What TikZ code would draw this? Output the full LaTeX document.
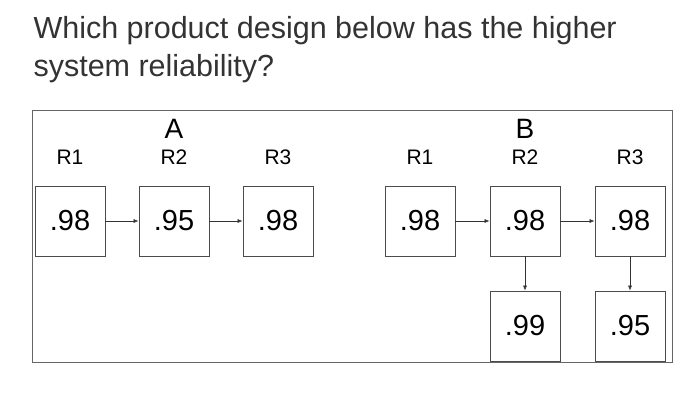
\documentclass[tikz,border=0pt]{standalone}
\usepackage{fontspec}
\setmainfont{Liberation Sans}
\usetikzlibrary{arrows.meta}
\begin{document}
\begin{tikzpicture}[x=1pt,y=-1pt,
  blk/.style={draw=black!70,line width=0.8pt,minimum width=70pt,minimum height=70pt,inner sep=0pt,font=\fontsize{29}{31}\selectfont},
  lbl/.style={font=\fontsize{21}{23}\selectfont},
  ttl/.style={font=\fontsize{28}{30}\selectfont},
  con/.style={draw=black!80,line width=0.6pt,-{Latex[length=5pt,width=4pt]}}]
\useasboundingbox (0,0) rectangle (700,403);
\node[anchor=west,text=black!80,font=\fontsize{30.5}{38}\selectfont,align=left] (title) at (30,50) {Which product design below has the higher\\system reliability?};
\node[draw=black!60,line width=0.8pt,minimum width=640pt,minimum height=252pt,inner sep=0pt] (frame) at (352,236) {};
\node[blk] (a1) at (70,221) {.98};
\node[blk] (a2) at (174,221) {.95};
\node[blk] (a3) at (278,221) {.98};
\node[blk] (b1) at (420,221) {.98};
\node[blk] (b2) at (525,221) {.98};
\node[blk] (b3) at (630,221) {.98};
\node[blk] (b2d) at (525,326) {.99};
\node[blk] (b3d) at (630,326) {.95};
\node[ttl] (la) at (174,129) {A};
\node[ttl] (lb) at (525,129) {B};
\node[lbl] (la1) at (70,157) {R1};
\node[lbl] (la2) at (174,157) {R2};
\node[lbl] (la3) at (278,157) {R3};
\node[lbl] (lb1) at (420,157) {R1};
\node[lbl] (lb2) at (525,157) {R2};
\node[lbl] (lb3) at (630,157) {R3};
\draw[con] (a1) -- (a2);
\draw[con] (a2) -- (a3);
\draw[con] (b1) -- (b2);
\draw[con] (b2) -- (b3);
\draw[con] (b2) -- (b2d);
\draw[con] (b3) -- (b3d);
\end{tikzpicture}
\end{document}
